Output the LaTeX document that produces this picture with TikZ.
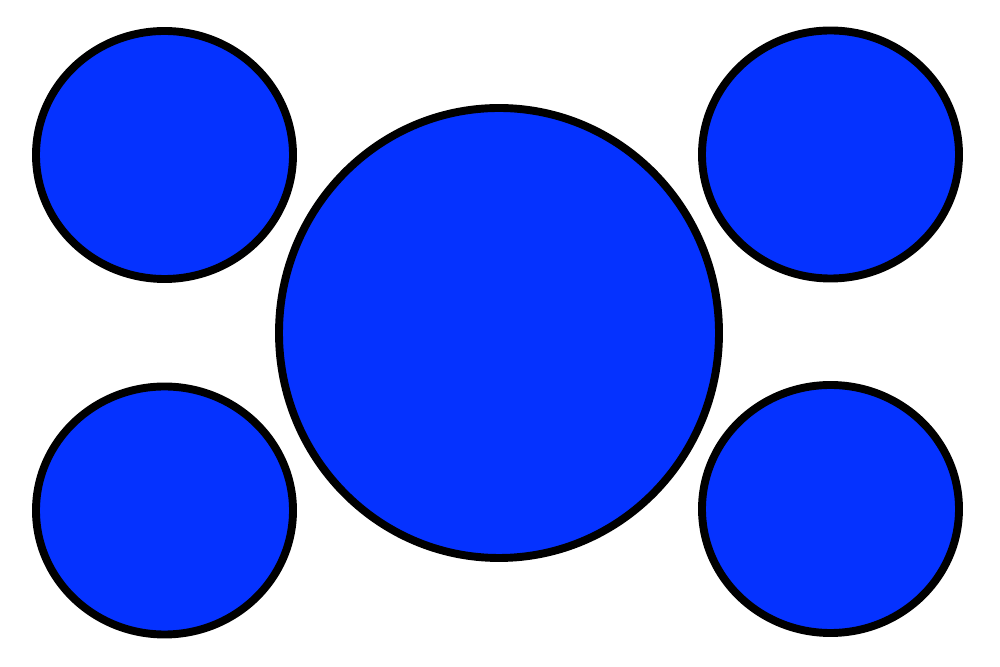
\documentclass[tikz,border=0pt]{standalone}
\usepackage{xcolor}
\usepackage{tikz}
\usetikzlibrary{shapes.geometric, positioning}

\definecolor{discblue}{RGB}{5,50,255}

\begin{document}
\begin{tikzpicture}[
    disc/.style={ellipse, draw=black, line width=4.5pt, fill=discblue, inner sep=0pt},
    hub/.style={disc, minimum width=8.8cm, minimum height=9cm},
    satellite/.style={disc, minimum width=5.14cm, minimum height=4.96cm}
]
\useasboundingbox (0,0) rectangle (20,13.34);

% Centre disc
\node[hub] (hub) at (9.98,6.68) {};

% Top row
\node[satellite] (topleft) at (3.29,10.24) {};
\node[satellite] (topright) at (16.61,10.25) {};

% Bottom row
\node[satellite] (bottomleft) at (3.29,3.13) {};
\node[satellite] (bottomright) at (16.61,3.16) {};

\end{tikzpicture}
\end{document}
